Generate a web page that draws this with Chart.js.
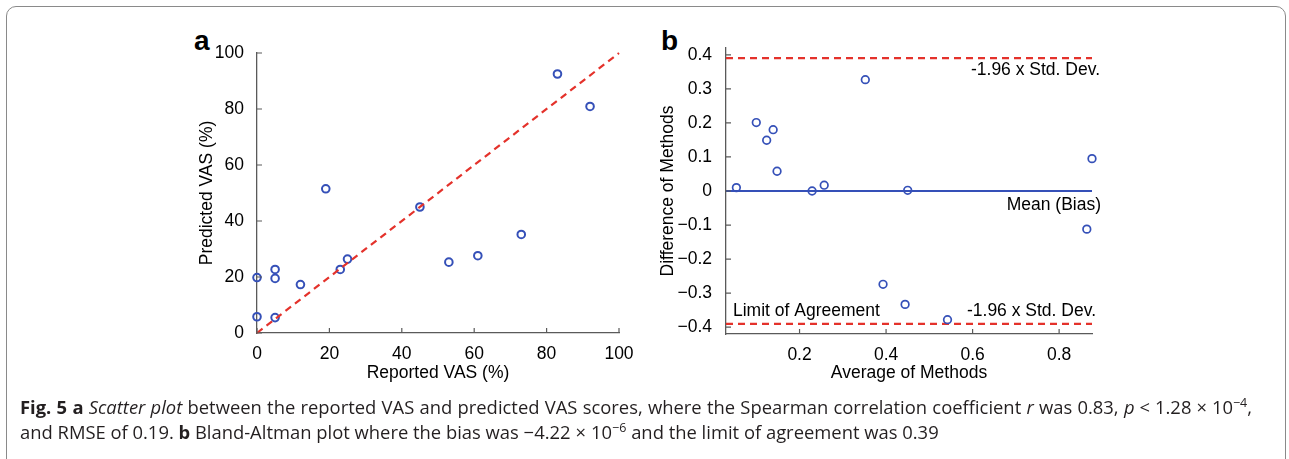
<!DOCTYPE html>
<html>
<head>
<meta charset="utf-8">
<script src="https://cdn.jsdelivr.net/npm/chart.js@4/dist/chart.umd.min.js"></script>
<style>
  html, body { margin: 0; padding: 0; background: #fff; overflow: hidden; }
  body { width: 1289px; height: 459px; position: relative; }
  .frame { position: absolute; left: 6px; top: 6px; width: 1280px; height: 480px;
           border: 1.3px solid #8a8a8a; border-radius: 10px; box-sizing: border-box; }
  canvas { position: absolute; }
  .panel { position: absolute; font: bold 28px "Liberation Sans", Arial, sans-serif; color: #000; line-height: 28px; }
  .cap { position: absolute; left: 20px; width: 1232px; font: 18.4px "Open Sans", sans-serif;
         color: #231f20; line-height: 20px; white-space: nowrap; }
  .cap sup { font-size: 0.68em; line-height: 0; vertical-align: 0.55em; }
  .op { margin: 0 5px; }
  .l1 { top: 397px; text-align: justify; text-align-last: justify; white-space: normal; }
  .l2 { top: 422px; }
</style>
</head>
<body>
<div class="frame"></div>
<div class="panel" style="left:194px; top:27px;">a</div>
<div class="panel" style="left:661px; top:27px;">b</div>
<div style="position:absolute; left:150px; top:25px; width:490px; height:370px;"><canvas id="chart-a"></canvas></div>
<div style="position:absolute; left:640px; top:25px; width:500px; height:370px;"><canvas id="chart-b"></canvas></div>
<div class="cap l1"><b>Fig. 5</b> <b>a</b> <i>Scatter plot</i> between the reported VAS and predicted VAS scores, where the Spearman correlation coefficient <i>r</i> was 0.83, <i>p</i><span class="op">&lt;</span>1.28<span class="op">×</span>10<sup>−4</sup>,</div>
<div class="cap l2">and RMSE of 0.19. <b>b</b> Bland-Altman plot where the bias was −4.22<span class="op">×</span>10<sup>−6</sup> and the limit of agreement was 0.39</div>

<script>
// panel a: reported vs predicted VAS (%)
const reportedVAS  = [0, 0, 5, 5, 5, 12, 19, 23, 25, 45, 53, 61, 73, 83, 92];
const predictedVAS = [19.8, 5.8, 22.7, 19.5, 5.5, 17.3, 51.5, 22.7, 26.4, 45.0, 25.3, 27.6, 35.2, 92.5, 80.9];
const identityX = [0, 100];
const identityY = [0, 100];
const ticksA = [0, 20, 40, 60, 80, 100];

// panel b: Bland-Altman
const avgMethods  = [0.054, 0.100, 0.124, 0.139, 0.148, 0.229, 0.257, 0.352, 0.393, 0.444, 0.450, 0.542, 0.864, 0.876];
const diffMethods = [0.010, 0.201, 0.149, 0.180, 0.058, 0.000, 0.017, 0.327, -0.274, -0.333, 0.002, -0.378, -0.112, 0.095];
const rangeB = [0.03, 0.876];
const bias = -4.22e-6;
const limitAgreement = 0.39;
const ticksBx = [0.2, 0.4, 0.6, 0.8];
const ticksBy = [-0.4, -0.3, -0.2, -0.1, 0, 0.1, 0.2, 0.3, 0.4];

const BLUE = '#3550b8';
const RED = '#e4322b';
const AXIS = '#5a5a5a';
const FONT = { family: '"Liberation Sans", Arial, sans-serif', size: 17.5 };

function pts(xs, ys) {
    return xs.map((x, i) => ({ x: x, y: ys[i] }));
}

// MATLAB style inward tick marks
const inwardTicks = {
    id: 'inwardTicks',
    afterDraw(chart) {
        const ctx = chart.ctx;
        const { x, y } = chart.scales;
        ctx.save();
        ctx.strokeStyle = AXIS;
        ctx.lineWidth = 1.2;
        ctx.beginPath();
        x.ticks.forEach(t => {
            const px = x.getPixelForValue(t.value);
            ctx.moveTo(px, x.top);
            ctx.lineTo(px, x.top - 5);
        });
        y.ticks.forEach(t => {
            const py = y.getPixelForValue(t.value);
            ctx.moveTo(y.right, py);
            ctx.lineTo(y.right + 5, py);
        });
        ctx.stroke();
        ctx.restore();
    }
};

function axis(min, max, ticks, size, tickPad, title, titlePad, fmt) {
    return {
        type: 'linear',
        min: min,
        max: max,
        grid: { display: false },
        border: { display: true, color: AXIS, width: 1.3 },
        afterBuildTicks: s => { s.ticks = ticks.map(v => ({ value: v })); },
        afterFit: s => { if (s.isHorizontal()) s.height = size; else s.width = size; },
        ticks: { color: '#000', font: FONT, padding: tickPad, autoSkip: false, maxRotation: 0,
                 callback: fmt || (v => String(v)) },
        title: { display: true, text: title, color: '#000', font: FONT, padding: titlePad }
    };
}

const fmtB = v => v === 0 ? '0' : (v < 0 ? '\u2212' + Math.abs(v).toFixed(1) : v.toFixed(1));

new Chart(document.getElementById('chart-a'), {
    type: 'scatter',
    data: {
        datasets: [{
            data: pts(identityX, identityY),
            showLine: true,
            borderColor: RED,
            borderWidth: 2.2,
            borderDash: [7, 5],
            pointRadius: 0,
            clip: false
        }, {
            data: pts(reportedVAS, predictedVAS),
            pointStyle: 'circle',
            pointRadius: 3.8,
            borderColor: BLUE,
            borderWidth: 2,
            backgroundColor: 'rgba(0,0,0,0)',
            clip: false
        }]
    },
    options: {
        responsive: true,
        maintainAspectRatio: false,
        animation: false,
        events: [],
        layout: { padding: { left: 0, top: 28, right: 21, bottom: 0 } },
        plugins: { legend: { display: false }, tooltip: { enabled: false } },
        scales: {
            x: axis(0, 100, ticksA, 62, 3, 'Reported VAS (%)', { top: 0, bottom: 11.5 }),
            y: axis(0, 100, ticksA, 107, 5, 'Predicted VAS (%)', { top: 46.5, bottom: 0 })
        }
    },
    plugins: [inwardTicks]
});

// limit / bias labels on panel b
const baLabels = {
    id: 'baLabels',
    afterDraw(chart) {
        const ctx = chart.ctx;
        const { y } = chart.scales;
        const area = chart.chartArea;
        const up = y.getPixelForValue(bias + limitAgreement);
        const mid = y.getPixelForValue(bias);
        const low = y.getPixelForValue(bias - limitAgreement);
        ctx.save();
        ctx.fillStyle = '#000';
        ctx.font = '17.5px "Liberation Sans", Arial, sans-serif';
        ctx.textBaseline = 'middle';
        ctx.textAlign = 'right';
        ctx.fillText('-1.96 x Std. Dev.', area.right + 8, up + 12);
        ctx.fillText('Mean (Bias)', area.right + 9, mid + 14);
        ctx.fillText('-1.96 x Std. Dev.', area.right + 4, low - 13);
        ctx.textAlign = 'left';
        ctx.fillText('Limit of Agreement', area.left + 7, low - 13);
        ctx.restore();
    }
};

new Chart(document.getElementById('chart-b'), {
    type: 'scatter',
    data: {
        datasets: [{
            data: pts(avgMethods, diffMethods),
            pointStyle: 'circle',
            pointRadius: 3.8,
            borderColor: BLUE,
            borderWidth: 1.7,
            backgroundColor: 'rgba(0,0,0,0)',
            clip: false
        }, {
            data: pts(rangeB, rangeB.map(() => bias)),
            showLine: true,
            borderColor: BLUE,
            borderWidth: 2.2,
            pointRadius: 0
        }, {
            data: pts(rangeB, rangeB.map(() => bias + limitAgreement)),
            showLine: true,
            borderColor: RED,
            borderWidth: 2.2,
            borderDash: [7, 5],
            pointRadius: 0
        }, {
            data: pts(rangeB, rangeB.map(() => bias - limitAgreement)),
            showLine: true,
            borderColor: RED,
            borderWidth: 2.2,
            borderDash: [7, 5],
            pointRadius: 0
        }]
    },
    options: {
        responsive: true,
        maintainAspectRatio: false,
        animation: false,
        events: [],
        layout: { padding: { left: 0, top: 23, right: 48, bottom: 0 } },
        plugins: { legend: { display: false }, tooltip: { enabled: false } },
        scales: {
            x: axis(rangeB[0], rangeB[1], ticksBx, 61, 3, 'Average of Methods', { top: 0, bottom: 11.5 }),
            y: axis(-0.42, 0.42, ticksBy, 86, 6, 'Difference of Methods', { top: 17.5, bottom: 0 }, fmtB)
        }
    },
    plugins: [inwardTicks, baLabels]
});
</script>
</body>
</html>
